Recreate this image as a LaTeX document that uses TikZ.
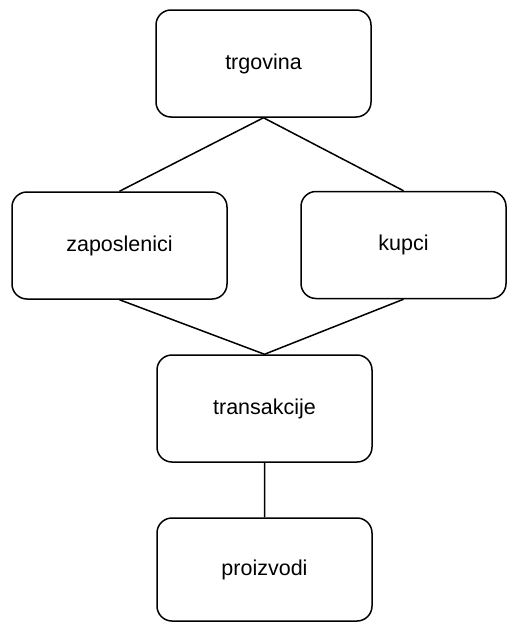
\documentclass[tikz,border=0pt]{standalone}
\usepackage{fontspec}
\setmainfont{Liberation Sans}

\begin{document}
\begin{tikzpicture}[x=1pt, y=-1pt,
    tbl/.style={draw, rectangle, rounded corners=15pt, line width=1.5pt, minimum width=215pt, minimum height=107pt, font=\fontsize{21.5}{25}\selectfont}]
  \useasboundingbox (0, 0) rectangle (508, 624);
  \draw (263.5, 63.5) node [tbl] (trg) {trgovina};
  \draw (119.5, 245.5) node [tbl] (zap) {zaposlenici};
  \draw (403.5, 245) node [tbl, minimum width=205pt] (kup) {kupci};
  \draw (264.5, 408.5) node [tbl] (tra) {transakcije};
  \draw (264.5, 569.5) node [tbl, minimum height=103pt] (pro) {proizvodi};
  \draw[line width=1.5pt]
    (trg.south) -- (zap.north)
    (trg.south) -- (kup.north)
    (zap.south) -- (tra.north)
    (kup.south) -- (tra.north)
    (tra.south) -- (pro.north);
\end{tikzpicture}
\end{document}
